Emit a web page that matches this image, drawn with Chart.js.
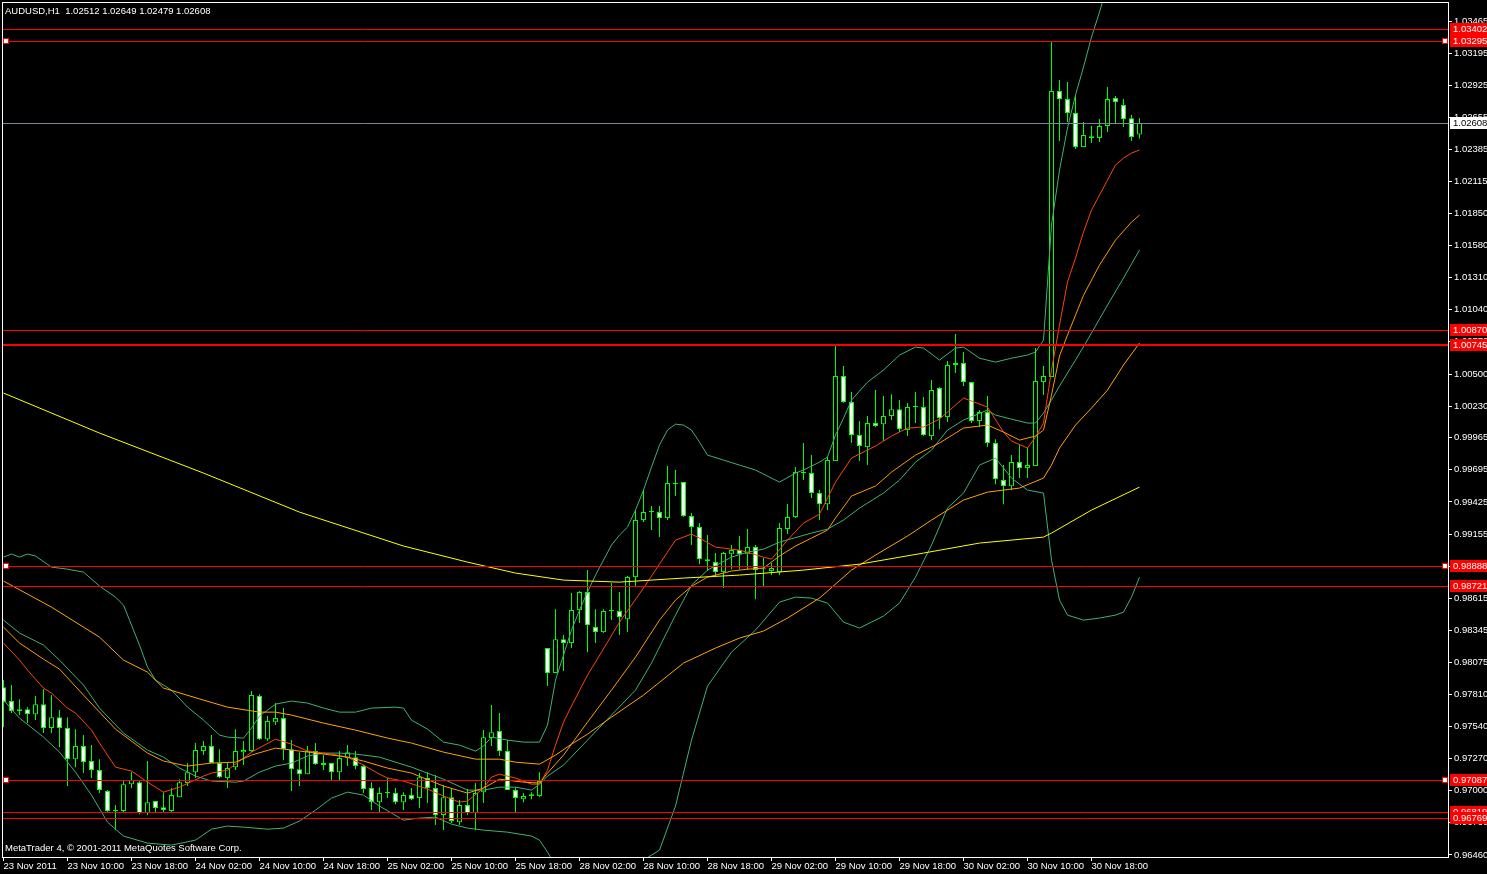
<!DOCTYPE html>
<html>
<head>
<meta charset="utf-8">
<title>AUDUSD,H1</title>
<script src="https://cdn.jsdelivr.net/npm/chart.js@4.4.0/dist/chart.umd.min.js"></script>
<style>
  html, body { margin: 0; padding: 0; background: #000; overflow: hidden; }
</style>
</head>
<body>
<canvas id="chart" width="1487" height="874"></canvas>
<script>
// ============================================================
// DATA  (AUDUSD H1, bar 0 = 23 Nov 2011 02:00)
// ============================================================

const openP = [
  0.97870, 0.97753, 0.97669, 0.97685, 0.97643, 0.97727, 0.97526, 0.97618, 0.97526, 0.97265,
  0.97375, 0.97249, 0.97173, 0.96997, 0.96829, 0.96829, 0.97055, 0.97072, 0.96812, 0.96913,
  0.96862, 0.96829, 0.96946, 0.97064, 0.97156, 0.97333, 0.97375, 0.97232, 0.97106, 0.97198,
  0.97324, 0.97333, 0.97795, 0.97433, 0.97576, 0.97610, 0.97349, 0.97181, 0.97139, 0.97333,
  0.97215, 0.97232, 0.97156, 0.97274, 0.97282, 0.97207, 0.97022, 0.96904, 0.96980, 0.96980,
  0.96904, 0.96963, 0.96938, 0.97106, 0.97022, 0.96795, 0.96946, 0.96736, 0.96879, 0.96812,
  0.96988, 0.97442, 0.97501, 0.97333, 0.97005, 0.96929, 0.96955, 0.96955, 0.98198, 0.97988,
  0.98273, 0.98240, 0.98517, 0.98668, 0.98374, 0.98332, 0.98509, 0.98509, 0.98441, 0.98794,
  0.99273, 0.99340, 0.99340, 0.99290, 0.99576, 0.99593, 0.99307, 0.99215, 0.98945, 0.98920,
  0.98836, 0.98987, 0.99021, 0.98987, 0.99046, 0.98861, 0.98845, 0.98836, 0.99198, 0.99298,
  0.99668, 0.99668, 0.99500, 0.99407, 0.99769, 1.00483, 1.00264, 0.99987, 0.99886, 1.00088,
  1.00079, 1.00147, 1.00205, 1.00029, 1.00222, 1.00222, 0.99979, 1.00382, 1.00138, 1.00575,
  1.00592, 1.00432, 1.00105, 1.00180, 0.99920, 0.99609, 0.99558, 0.99760, 0.99710, 0.99727,
  1.00432, 1.00474, 1.02877, 1.02809, 1.02692, 1.02406, 1.02498, 1.02482, 1.02583, 1.02818,
  1.02759, 1.02649, 1.02512
];
const highP = [
  0.97929, 0.97887, 0.97769, 0.97702, 0.97795, 0.97853, 0.97803, 0.97677, 0.97618, 0.97517,
  0.97467, 0.97383, 0.97265, 0.97005, 0.96879, 0.97089, 0.97156, 0.97081, 0.97249, 0.96913,
  0.96988, 0.97022, 0.97097, 0.97232, 0.97400, 0.97417, 0.97467, 0.97349, 0.97232, 0.97517,
  0.97417, 0.97837, 0.97811, 0.97627, 0.97736, 0.97694, 0.97425, 0.97324, 0.97375, 0.97400,
  0.97299, 0.97232, 0.97333, 0.97383, 0.97333, 0.97215, 0.97072, 0.97030, 0.97106, 0.97022,
  0.96988, 0.97022, 0.97148, 0.97156, 0.97131, 0.97047, 0.97022, 0.96921, 0.97014, 0.97064,
  0.97509, 0.97719, 0.97652, 0.97425, 0.97030, 0.96980, 0.96988, 0.97156, 0.98198, 0.98525,
  0.98307, 0.98660, 0.98677, 0.98853, 0.98525, 0.98525, 0.98744, 0.98668, 0.98803, 0.99357,
  0.99534, 0.99391, 0.99391, 0.99727, 0.99693, 0.99593, 0.99332, 0.99248, 0.99147, 0.98996,
  0.99004, 0.99063, 0.99139, 0.99198, 0.99063, 0.98954, 0.98912, 0.99248, 0.99408, 0.99718,
  0.99920, 0.99819, 0.99525, 0.99802, 1.00751, 1.00567, 1.00348, 1.00105, 1.00147, 1.00365,
  1.00315, 1.00331, 1.00281, 1.00256, 1.00348, 1.00306, 1.00449, 1.00390, 1.00609, 1.00835,
  1.00684, 1.00432, 1.00197, 1.00315, 0.99953, 0.99735, 0.99819, 0.99903, 0.99878, 1.00718,
  1.00567, 1.03290, 1.02969, 1.02952, 1.02843, 1.02616, 1.02583, 1.02641, 1.02910, 1.02835,
  1.02809, 1.02675, 1.02649
];
const lowP = [
  0.97534, 0.97652, 0.97635, 0.97568, 0.97593, 0.97484, 0.97484, 0.97366, 0.97039, 0.97198,
  0.97148, 0.97106, 0.96980, 0.96812, 0.96669, 0.96812, 0.97022, 0.96803, 0.96795, 0.96812,
  0.96812, 0.96820, 0.96946, 0.97039, 0.97106, 0.97299, 0.97232, 0.97106, 0.97022, 0.97173,
  0.97215, 0.97324, 0.97425, 0.97417, 0.97551, 0.97257, 0.96997, 0.97039, 0.97139, 0.97215,
  0.97173, 0.97081, 0.97081, 0.97207, 0.97181, 0.96980, 0.96837, 0.96820, 0.96938, 0.96887,
  0.96837, 0.96921, 0.96854, 0.96896, 0.96711, 0.96669, 0.96728, 0.96711, 0.96795, 0.96669,
  0.96896, 0.97375, 0.97291, 0.97005, 0.96820, 0.96904, 0.96929, 0.96946, 0.97879, 0.97988,
  0.98005, 0.98198, 0.98408, 0.98164, 0.98240, 0.98324, 0.98433, 0.98307, 0.98332, 0.98710,
  0.99256, 0.99189, 0.99130, 0.99273, 0.99475, 0.99299, 0.99063, 0.98902, 0.98845, 0.98794,
  0.98702, 0.98861, 0.98861, 0.98853, 0.98609, 0.98710, 0.98811, 0.98811, 0.99156, 0.99290,
  0.99609, 0.99458, 0.99273, 0.99357, 0.99769, 1.00256, 0.99920, 0.99769, 0.99735, 1.00054,
  0.99937, 1.00113, 1.00012, 0.99979, 1.00088, 0.99979, 0.99945, 1.00037, 1.00096, 1.00508,
  1.00399, 1.00088, 1.00054, 0.99886, 0.99575, 0.99407, 0.99525, 0.99626, 0.99626, 0.99727,
  1.00323, 1.00474, 1.02457, 1.02616, 1.02389, 1.02423, 1.02440, 1.02448, 1.02532, 1.02608,
  1.02574, 1.02457, 1.02479
];
const closeP = [
  0.97744, 0.97669, 0.97685, 0.97643, 0.97727, 0.97526, 0.97618, 0.97526, 0.97265, 0.97375,
  0.97240, 0.97173, 0.97005, 0.96829, 0.96829, 0.97055, 0.97089, 0.96812, 0.96904, 0.96854,
  0.96837, 0.96963, 0.97072, 0.97156, 0.97341, 0.97375, 0.97232, 0.97114, 0.97190, 0.97333,
  0.97341, 0.97803, 0.97433, 0.97585, 0.97610, 0.97349, 0.97181, 0.97139, 0.97333, 0.97223,
  0.97232, 0.97156, 0.97274, 0.97324, 0.97207, 0.97014, 0.96904, 0.96980, 0.96980, 0.96904,
  0.96963, 0.96929, 0.97114, 0.97022, 0.96795, 0.96946, 0.96745, 0.96879, 0.96812, 0.96980,
  0.97450, 0.97492, 0.97333, 0.97005, 0.96938, 0.96955, 0.96971, 0.97081, 0.97988, 0.98273,
  0.98240, 0.98517, 0.98668, 0.98391, 0.98332, 0.98509, 0.98509, 0.98458, 0.98794, 0.99273,
  0.99340, 0.99340, 0.99290, 0.99584, 0.99576, 0.99307, 0.99215, 0.98945, 0.98929, 0.98836,
  0.98996, 0.99021, 0.98987, 0.99046, 0.98853, 0.98861, 0.98870, 0.99206, 0.99299, 0.99676,
  0.99668, 0.99500, 0.99407, 0.99777, 1.00483, 1.00264, 0.99987, 0.99895, 1.00088, 1.00063,
  1.00147, 1.00205, 1.00037, 1.00222, 1.00222, 0.99987, 1.00365, 1.00130, 1.00575, 1.00592,
  1.00432, 1.00105, 1.00180, 0.99920, 0.99617, 0.99558, 0.99760, 0.99710, 0.99735, 1.00441,
  1.00483, 1.02877, 1.02809, 1.02692, 1.02406, 1.02507, 1.02482, 1.02583, 1.02809, 1.02784,
  1.02641, 1.02490, 1.02608
];

// indicator lines, read as [bar, price]
const maFast = [
  [0,0.98240],[2,0.98097],[3,0.98013],[5,0.97862],[6,0.97820],[8,0.97694],[9,0.97652],[11,0.97509],
  [12,0.97400],[14,0.97198],[16,0.97165],[18,0.97072],[20,0.96988],[22,0.97030],[25,0.97123],[26,0.97148],
  [28,0.97173],[31,0.97324],[34,0.97433],[36,0.97391],[38,0.97333],[41,0.97308],[43,0.97282],[45,0.97215],
  [47,0.97139],[48,0.97106],[50,0.97081],[53,0.97014],[55,0.96955],[57,0.96904],[58,0.96913],[60,0.97022],
  [61,0.97114],[62,0.97139],[64,0.97106],[66,0.97055],[67,0.97055],[68,0.97173],[69,0.97383],[70,0.97576],
  [71,0.97711],[73,0.97971],[74,0.98080],[77,0.98416],[80,0.98702],[84,0.99105],[86,0.99155],[87,0.99122],
  [89,0.99046],[91,0.99029],[92,0.99021],[95,0.98962],[96,0.98945],[98,0.99105],[100,0.99248],[102,0.99323],
  [104,0.99592],[106,0.99794],[109,0.99895],[111,0.99979],[113,1.00046],[115,1.00055],[117,1.00121],[118,1.00180],
  [120,1.00298],[121,1.00273],[123,1.00222],[125,1.00012],[126,0.99937],[128,0.99878],[129,0.99970],[130,1.00088],
  [131,1.00533],[132,1.00911],[133,1.01272],[134,1.01474],[135,1.01693],[136,1.01877],[137,1.02003],[138,1.02129],
  [139,1.02255],[140,1.02314],[141,1.02356],[142,1.02381]
];
const maMid = [
  [0,0.98374],[2,0.98240],[5,0.98105],[7,0.98021],[10,0.97803],[14,0.97517],[18,0.97316],[20,0.97249],
  [23,0.97207],[26,0.97232],[29,0.97240],[31,0.97299],[34,0.97358],[37,0.97333],[40,0.97308],[43,0.97282],
  [45,0.97249],[48,0.97190],[51,0.97148],[55,0.97039],[58,0.96980],[60,0.97022],[62,0.97097],[65,0.97072],
  [67,0.97064],[68,0.97148],[70,0.97299],[73,0.97576],[76,0.97845],[79,0.98122],[82,0.98433],[84,0.98601],
  [86,0.98717],[88,0.98794],[91,0.98845],[93,0.98861],[95,0.98870],[97,0.98971],[99,0.99055],[101,0.99122],
  [103,0.99189],[104,0.99290],[106,0.99475],[109,0.99559],[111,0.99676],[114,0.99819],[117,0.99920],[120,1.00046],
  [123,1.00071],[125,1.00012],[127,0.99945],[129,0.99979],[130,1.00029],[131,1.00323],[132,1.00651],[133,1.00827],
  [135,1.01161],[137,1.01415],[139,1.01625],[141,1.01776],[142,1.01835]
];
const maSlow = [
  [0,0.98761],[6,0.98542],[12,0.98290],[15,0.98097],[18,0.97996],[20,0.97862],[25,0.97761],[28,0.97702],
  [32,0.97660],[34,0.97660],[36,0.97635],[40,0.97568],[44,0.97509],[48,0.97442],[51,0.97400],[55,0.97324],
  [59,0.97265],[62,0.97265],[64,0.97240],[67,0.97223],[69,0.97299],[71,0.97391],[73,0.97475],[76,0.97618],
  [80,0.97803],[85,0.98072],[89,0.98198],[92,0.98282],[95,0.98341],[98,0.98450],[102,0.98618],[106,0.98853],
  [109,0.98979],[113,0.99139],[116,0.99273],[120,0.99441],[123,0.99508],[127,0.99542],[130,0.99626],[131,0.99735],
  [132,0.99878],[134,1.00071],[136,1.00214],[138,1.00365],[140,1.00575],[142,1.00760]
];
const maLong = [
  [0,1.00340],[12,1.00004],[25,0.99668],[37,0.99340],[50,0.99055],[58,0.98920],[64,0.98828],[70,0.98769],
  [77,0.98752],[85,0.98786],[92,0.98811],[100,0.98853],[107,0.98903],[115,0.98996],[122,0.99080],[130,0.99130],
  [131,0.99164],[136,0.99357],[142,0.99550]
];
const bbUpper = [
  [0,0.98962],[1,0.98988],[2,0.98962],[3,0.98988],[4,0.98971],[6,0.98878],[8,0.98861],[10,0.98836],
  [12,0.98719],[14,0.98626],[15,0.98559],[16,0.98391],[17,0.98223],[18,0.98038],[19,0.97929],[21,0.97845],
  [23,0.97702],[25,0.97593],[27,0.97467],[28,0.97450],[30,0.97442],[31,0.97526],[32,0.97627],[33,0.97677],
  [34,0.97727],[36,0.97753],[38,0.97736],[40,0.97694],[42,0.97660],[44,0.97660],[46,0.97694],[49,0.97702],
  [50,0.97694],[51,0.97593],[53,0.97517],[55,0.97408],[57,0.97383],[59,0.97333],[60,0.97375],[61,0.97450],
  [63,0.97425],[65,0.97408],[67,0.97408],[68,0.97551],[69,0.97929],[70,0.98139],[71,0.98349],[72,0.98517],
  [73,0.98668],[74,0.98811],[75,0.98937],[76,0.99063],[77,0.99147],[78,0.99214],[79,0.99357],[80,0.99525],
  [81,0.99718],[82,0.99903],[83,1.00029],[84,1.00079],[85,1.00071],[86,1.00029],[87,0.99928],[88,0.99819],
  [90,0.99777],[92,0.99735],[94,0.99693],[97,0.99592],[99,0.99668],[100,0.99693],[102,0.99760],[103,0.99802],
  [104,0.99987],[105,1.00129],[106,1.00281],[108,1.00432],[110,1.00533],[112,1.00659],[114,1.00726],[115,1.00718],
  [117,1.00617],[119,1.00718],[120,1.00726],[122,1.00633],[124,1.00600],[126,1.00633],[128,1.00659],[129,1.00684],
  [130,1.00785],[131,1.01751],[132,1.02213],[133,1.02566],[134,1.02843],[135,1.03078],[136,1.03330],[137,1.03540],
  [138,1.03767],[139,1.03977]
];
const bbMid = [
  [0,0.98433],[2,0.98324],[5,0.98223],[7,0.98097],[10,0.97887],[12,0.97694],[15,0.97484],[18,0.97341],
  [20,0.97282],[22,0.97190],[24,0.97123],[26,0.97081],[29,0.97072],[30,0.97081],[32,0.97156],[34,0.97207],
  [36,0.97232],[38,0.97291],[40,0.97316],[42,0.97316],[44,0.97308],[47,0.97282],[51,0.97198],[55,0.97097],
  [58,0.97005],[60,0.97005],[62,0.97030],[64,0.97030],[66,0.97005],[67,0.97055],[68,0.97123],[70,0.97215],
  [73,0.97425],[76,0.97635],[79,0.97845],[81,0.98072],[84,0.98475],[86,0.98727],[88,0.98853],[91,0.98962],
  [93,0.99004],[95,0.99029],[97,0.99088],[101,0.99164],[103,0.99197],[105,0.99273],[107,0.99374],[110,0.99500],
  [112,0.99609],[114,0.99760],[116,0.99861],[118,1.00029],[120,1.00113],[123,1.00197],[124,1.00155],[126,1.00121],
  [128,1.00088],[129,1.00088],[130,1.00172],[131,1.00281],[132,1.00399],[134,1.00617],[136,1.00844],[138,1.01079],
  [140,1.01306],[142,1.01541]
];
const bbLower = [
  [0,0.97761],[2,0.97610],[5,0.97450],[7,0.97324],[9,0.97156],[11,0.96963],[13,0.96736],[15,0.96619],
  [18,0.96560],[21,0.96543],[24,0.96585],[26,0.96677],[28,0.96703],[30,0.96694],[33,0.96677],[35,0.96686],
  [37,0.96745],[39,0.96837],[41,0.96938],[43,0.96988],[45,0.96963],[47,0.96871],[50,0.96753],[52,0.96770],
  [54,0.96778],[56,0.96719],[58,0.96686],[60,0.96669],[63,0.96652],[66,0.96619],[67,0.96585],[68,0.96484],
  [70,0.96249],[73,0.96182],[76,0.96207],[78,0.96316],[80,0.96417],[82,0.96501],[84,0.96871],[86,0.97425],
  [88,0.97879],[91,0.98164],[94,0.98349],[97,0.98584],[99,0.98626],[101,0.98618],[103,0.98576],[105,0.98416],
  [107,0.98366],[110,0.98467],[112,0.98576],[114,0.98794],[116,0.99063],[118,0.99374],[120,0.99500],[122,0.99735],
  [124,0.99794],[126,0.99626],[128,0.99525],[130,0.99500],[131,0.98937],[132,0.98601],[133,0.98475],[135,0.98433],
  [137,0.98450],[139,0.98475],[140,0.98500],[141,0.98626],[142,0.98794]
];

// horizontal objects and axis labels
const levelPrices = [1.03402, 1.03295, 1.00870, 1.00745, 0.98888, 0.98721, 0.97087, 0.96819, 0.96769];
const anchoredLevels = [1.03295, 0.98888, 0.97087];
const bidPrice = 1.02608;
const yTickValues = [
  1.03465, 1.03195, 1.02925, 1.02655, 1.02385, 1.02115, 1.01850, 1.01580, 1.01310, 1.01040,
  1.00770, 1.00500, 1.00230, 0.99965, 0.99695, 0.99425, 0.99155, 0.98885, 0.98615, 0.98345,
  0.98075, 0.97810, 0.97540, 0.97270, 0.97000, 0.96730, 0.96460
];
const xTickLabels = [
  '23 Nov 2011', '23 Nov 10:00', '23 Nov 18:00', '24 Nov 02:00', '24 Nov 10:00', '24 Nov 18:00',
  '25 Nov 02:00', '25 Nov 10:00', '25 Nov 18:00', '28 Nov 02:00', '28 Nov 10:00', '28 Nov 18:00',
  '29 Nov 02:00', '29 Nov 10:00', '29 Nov 18:00', '30 Nov 02:00', '30 Nov 10:00', '30 Nov 18:00'
];
const titleText = 'AUDUSD,H1  1.02512 1.02649 1.02479 1.02608';
const copyText = 'MetaTrader 4, \u00A9 2001-2011 MetaQuotes Software Corp.';

// ============================================================
// CHART
// ============================================================

const FONT = "'Liberation Sans', Arial, sans-serif";
const FSIZE = 9.5;
const WICK = '#00ff00';

const toPts = arr => arr.map(p => ({ x: p[0], y: p[1] }));

function lineSet(arr, color) {
    return {
        type: 'line', data: toPts(arr), borderColor: color, borderWidth: 1,
        pointRadius: 0, tension: 0, fill: false, order: 0
    };
}

const mt4Plugin = {
    id: 'mt4',
    beforeDraw(chart) {
        const c = chart.ctx;
        c.save();
        c.fillStyle = '#000';
        c.fillRect(0, 0, chart.width, chart.height);
        c.restore();
    },
    afterDatasetsDraw(chart) {
        const c = chart.ctx, a = chart.chartArea, y = chart.scales.y;
        c.save();
        levelPrices.forEach(p => {
            const py = Math.round(y.getPixelForValue(p));
            const thick = p === 1.00745;
            c.strokeStyle = '#ff0000';
            c.lineWidth = thick ? 2 : 1;
            c.beginPath();
            c.moveTo(a.left, thick ? py : py + 0.5);
            c.lineTo(a.right, thick ? py : py + 0.5);
            c.stroke();
        });
        const by = Math.round(y.getPixelForValue(bidPrice)) + 0.5;
        c.strokeStyle = '#778899';
        c.lineWidth = 1;
        c.beginPath();
        c.moveTo(a.left, by);
        c.lineTo(a.right, by);
        c.stroke();
        anchoredLevels.forEach(p => {
            const py = Math.round(y.getPixelForValue(p));
            [a.left + 1, a.right - 6].forEach(px => {
                c.fillStyle = '#ff0000';
                c.fillRect(px, py - 3, 6, 6);
                c.fillStyle = '#ffffff';
                c.fillRect(px + 1, py - 2, 4, 4);
            });
        });
        c.restore();
    },
    afterDraw(chart) {
        const c = chart.ctx, a = chart.chartArea, y = chart.scales.y;
        c.save();
        // frame
        c.strokeStyle = '#ffffff';
        c.lineWidth = 1;
        c.strokeRect(a.left + 0.5, a.top + 0.5, a.right - a.left, a.bottom - a.top);
        // texts
        c.font = FSIZE + 'px ' + FONT;
        c.fillStyle = '#ffffff';
        c.textBaseline = 'middle';
        c.textAlign = 'left';
        c.fillText(titleText, 5, 11);
        c.fillText(copyText, 5, 848);
        // price labels on the axis
        const box = (p, bg, fg) => {
            const py = Math.round(y.getPixelForValue(p));
            c.fillStyle = bg;
            c.fillRect(a.right + 2, py - 6, chart.width - a.right - 2, 12);
            c.fillStyle = fg;
            c.fillText(p.toFixed(5), a.right + 5, py + 0.5);
        };
        levelPrices.forEach(p => box(p, '#ff0000', '#ffffff'));
        box(bidPrice, '#ffffff', '#000000');
        c.restore();
    }
};

new Chart(document.getElementById('chart').getContext('2d'), {
    type: 'bar',
    data: {
        datasets: [
            lineSet(maLong, '#ffff00'),
            lineSet(maSlow, '#ffa500'),
            lineSet(maMid, '#ff9900'),
            lineSet(maFast, '#ff4500'),
            lineSet(bbUpper, '#3cb371'),
            lineSet(bbMid, '#3cb371'),
            lineSet(bbLower, '#3cb371'),
            {
                type: 'bar',
                data: openP.map((o, i) => ({ x: i, y: [o, closeP[i]] })),
                backgroundColor: ctx => (closeP[ctx.dataIndex] < openP[ctx.dataIndex] ? '#ffffff' : '#000000'),
                borderColor: WICK,
                borderWidth: 1,
                borderSkipped: false,
                inflateAmount: 0,
                barThickness: 5,
                minBarLength: 1,
                grouped: false,
                order: 1
            },
            {
                type: 'bar',
                data: lowP.map((l, i) => ({ x: i, y: [l, highP[i]] })),
                backgroundColor: WICK,
                borderWidth: 0,
                inflateAmount: 0,
                barThickness: 1,
                grouped: false,
                order: 2
            }
        ]
    },
    options: {
        responsive: false,
        animation: false,
        events: [],
        layout: { padding: { left: 2, top: 2, right: 0, bottom: 0 } },
        plugins: { legend: { display: false }, tooltip: { enabled: false } },
        scales: {
            x: {
                type: 'linear',
                position: 'bottom',
                offset: false,
                min: -0.1875,
                max: 180.5625,
                afterBuildTicks: s => { s.ticks = xTickLabels.map((_, k) => ({ value: k * 8 })); },
                afterFit: s => { s.height = 17; s.paddingLeft = 0; s.paddingRight = 0; },
                ticks: {
                    autoSkip: false, maxRotation: 0, minRotation: 0, align: 'start',
                    color: '#ffffff', padding: 0, font: { family: FONT, size: FSIZE },
                    callback: (v, i) => xTickLabels[i]
                },
                grid: { offset: false, drawOnChartArea: false, drawTicks: true, tickLength: 4, color: '#ffffff' },
                border: { display: false }
            },
            y: {
                type: 'linear',
                position: 'right',
                min: 0.964432,
                max: 1.036246,
                afterBuildTicks: s => { s.ticks = yTickValues.map(v => ({ value: v })); },
                afterFit: s => { s.width = 39; s.paddingTop = 0; s.paddingBottom = 0; },
                ticks: {
                    autoSkip: false, color: '#ffffff', padding: 2, font: { family: FONT, size: FSIZE },
                    callback: v => Number(v).toFixed(5)
                },
                grid: { drawOnChartArea: false, drawTicks: true, tickLength: 4, color: '#ffffff' },
                border: { display: false }
            }
        }
    },
    plugins: [mt4Plugin]
});
</script>
</body>
</html>
